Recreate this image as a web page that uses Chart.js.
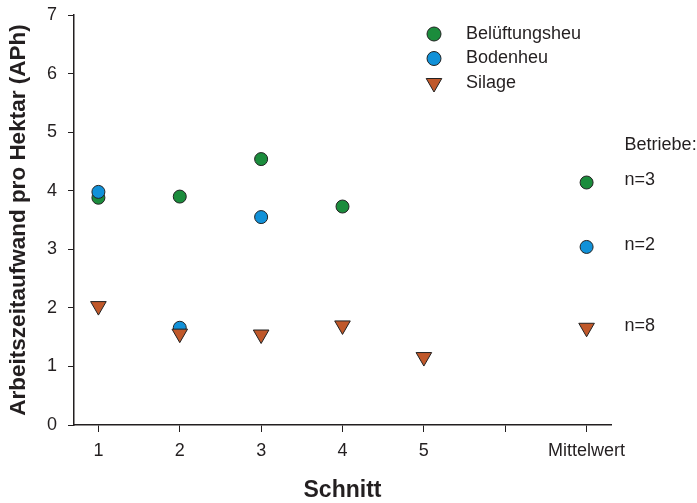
<!DOCTYPE html>
<html>
<head>
<meta charset="utf-8">
<script src="https://cdn.jsdelivr.net/npm/chart.js@4.4.1/dist/chart.umd.min.js"></script>
<style>
    html, body { margin: 0; padding: 0; background: #fff; }
</style>
</head>
<body>
<canvas id="chart" width="697" height="503"></canvas>
<script>
// x positions of the cuts, 7 = Mittelwert (6 is left empty)
const schnittX = [1, 2, 3, 4, 5, 7];
const tickLabels = ['', '1', '2', '3', '4', '5', '', 'Mittelwert'];
const seriesNames = ['Belüftungsheu', 'Bodenheu', 'Silage'];
const belueftungsheu = [3.88, 3.90, 4.54, 3.73, null, 4.14];
const bodenheu = [3.98, 1.66, 3.55, null, null, 3.04];
const silage = [2.03, 1.56, 1.545, 1.70, 1.16, 1.66];
const betriebeN = ['n=3', 'n=2', 'n=8'];

const TEXT = '#231f20';
const AXIS = '#231f20';
const FONT = '"Liberation Sans", Arial, sans-serif';

const toPoints = values => schnittX
    .map((x, i) => ({ x, y: values[i] }))
    .filter(p => p.y !== null);

// legend in the upper right and the n= labels next to the means
const notesPlugin = {
    id: 'notes',
    afterDatasetsDraw(chart) {
        const ctx = chart.ctx;
        const xs = chart.scales.x;
        const ys = chart.scales.y;
        ctx.save();
        ctx.font = '18px ' + FONT;
        ctx.textBaseline = 'middle';
        ctx.textAlign = 'left';

        chart.data.datasets.forEach((ds, i) => {
            const rowY = 34 + i * 24.5;
            ctx.fillStyle = ds.backgroundColor;
            ctx.strokeStyle = ds.borderColor;
            ctx.lineWidth = 1;
            Chart.helpers.drawPoint(ctx, {
                pointStyle: ds.pointStyle,
                radius: ds.pointStyle === 'triangle' ? 9 : 7,
                rotation: ds.rotation || 0,
                borderWidth: 1
            }, 434, rowY);
            ctx.fillStyle = TEXT;
            ctx.fillText(ds.label, 466, rowY);

            const meanVal = ds.data[ds.data.length - 1].y;
            const labelX = xs.getPixelForValue(7) + 38;
            ctx.fillText(betriebeN[i], labelX, ys.getPixelForValue(meanVal) - 2);
            if (i === 0) {
                ctx.fillText('Betriebe:', labelX, ys.getPixelForValue(meanVal) - 37);
            }
        });
        ctx.restore();
    }
};

const ctx = document.getElementById('chart').getContext('2d');
new Chart(ctx, {
    type: 'scatter',
    data: {
        datasets: [{
            label: seriesNames[0],
            data: toPoints(belueftungsheu),
            pointStyle: 'circle',
            pointRadius: 6.5,
            backgroundColor: '#1b8c3c',
            borderColor: '#222',
            borderWidth: 1,
            order: 3
        }, {
            label: seriesNames[1],
            data: toPoints(bodenheu),
            pointStyle: 'circle',
            pointRadius: 6.5,
            backgroundColor: '#1191d8',
            borderColor: '#222',
            borderWidth: 1,
            order: 2
        }, {
            label: seriesNames[2],
            data: toPoints(silage),
            pointStyle: 'triangle',
            rotation: 180,
            pointRadius: 9,
            backgroundColor: '#c0582a',
            borderColor: '#222',
            borderWidth: 1,
            order: 1
        }]
    },
    options: {
        responsive: false,
        animation: false,
        layout: { padding: { top: 15, right: 86, left: 0, bottom: 0 } },
        plugins: {
            legend: { display: false },
            tooltip: { enabled: false }
        },
        scales: {
            x: {
                type: 'linear',
                min: 0.7,
                max: 7.3,
                afterBuildTicks: scale => {
                    scale.ticks = [1, 2, 3, 4, 5, 6, 7].map(v => ({ value: v }));
                },
                afterFit: scale => { scale.height = 78; },
                ticks: {
                    callback: v => tickLabels[v] || '',
                    autoSkip: false,
                    maxRotation: 0,
                    padding: 8,
                    color: TEXT,
                    font: { family: FONT, size: 18 }
                },
                grid: { drawOnChartArea: false, tickLength: 7, color: AXIS, lineWidth: 1 },
                border: { color: AXIS, width: 1.5 },
                title: {
                    display: true,
                    text: 'Schnitt',
                    color: TEXT,
                    font: { family: FONT, size: 23, weight: 'bold' },
                    padding: { top: 0, bottom: -1 }
                }
            },
            y: {
                min: 0,
                max: 7,
                afterFit: scale => {
                    scale.width = 74;
                    // tick padding would otherwise push the plot down
                    scale.paddingTop = 10;
                    scale.paddingBottom = 10;
                },
                ticks: {
                    stepSize: 1,
                    padding: 11,
                    color: TEXT,
                    font: { family: FONT, size: 18 }
                },
                grid: { drawOnChartArea: false, tickLength: 6, color: AXIS, lineWidth: 1 },
                border: { color: AXIS, width: 1.5 },
                title: {
                    display: true,
                    text: 'Arbeitszeitaufwand pro Hektar (APh)',
                    color: TEXT,
                    font: { family: FONT, size: 22.5, weight: 'bold' },
                    padding: { top: 5, bottom: 0 }
                }
            }
        }
    },
    plugins: [notesPlugin]
});
</script>
</body>
</html>
